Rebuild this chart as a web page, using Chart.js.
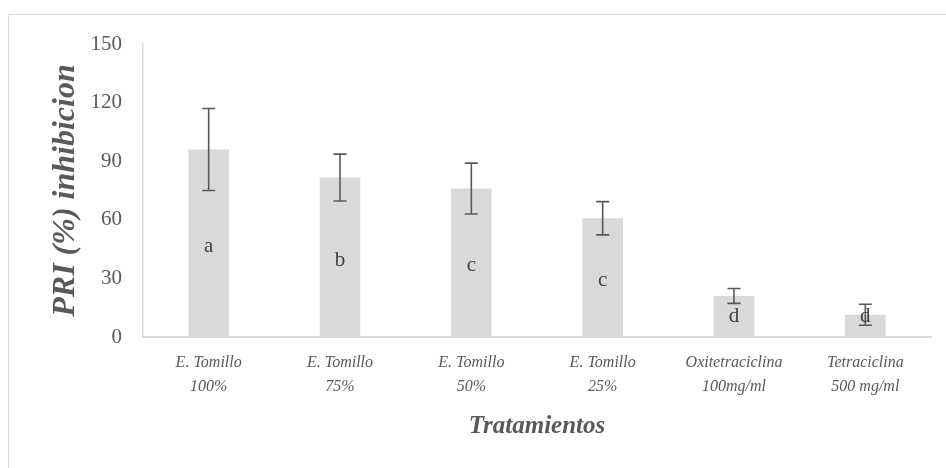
<!DOCTYPE html>
<html>
<head>
<meta charset="utf-8">
<script src="https://cdn.jsdelivr.net/npm/chart.js@4"></script>
<style>
  html, body { margin: 0; padding: 0; background: #ffffff; }
  #wrap { width: 946px; height: 468px; position: relative; }
</style>
</head>
<body>
<div id="wrap"><canvas id="chart" width="946" height="468"></canvas></div>
<script>
// Treatments and their inhibition values
const categories = [
  ['E. Tomillo', '100%'],
  ['E. Tomillo', '75%'],
  ['E. Tomillo', '50%'],
  ['E. Tomillo', '25%'],
  ['Oxitetraciclina', '100mg/ml'],
  ['Tetraciclina', '500 mg/ml']
];
const inhibition = [96, 81.6, 76, 60.8, 21, 11.4];
const errorSd = [21, 12, 13, 8.5, 3.8, 5.4];
const groupLetters = ['a', 'b', 'c', 'c', 'd', 'd'];
const yTicks = [0, 30, 60, 90, 120, 150];

const SERIF = '"Liberation Serif", "Times New Roman", serif';
const TEXT = '#595959';

// Error bars with caps, drawn on top of the bars
const errorBars = {
  id: 'errorBars',
  afterDatasetsDraw(chart) {
    const { ctx, scales: { x, y } } = chart;
    ctx.save();
    ctx.strokeStyle = '#595959';
    ctx.lineWidth = 1.6;
    inhibition.forEach((v, i) => {
      const cx = x.getPixelForValue(i);
      const top = y.getPixelForValue(v + errorSd[i]);
      const bot = y.getPixelForValue(v - errorSd[i]);
      ctx.beginPath();
      ctx.moveTo(cx, top); ctx.lineTo(cx, bot);
      ctx.moveTo(cx - 6.5, top); ctx.lineTo(cx + 6.5, top);
      ctx.moveTo(cx - 6.5, bot); ctx.lineTo(cx + 6.5, bot);
      ctx.stroke();
    });
    ctx.restore();
  }
};

// Significance letters inside each bar
const letterLabels = {
  id: 'letterLabels',
  afterDatasetsDraw(chart) {
    const { ctx, scales: { x, y } } = chart;
    ctx.save();
    ctx.fillStyle = '#404040';
    ctx.font = '21px ' + SERIF;
    ctx.textAlign = 'center';
    ctx.textBaseline = 'middle';
    inhibition.forEach((v, i) => {
      const cx = x.getPixelForValue(i);
      const cy = y.getPixelForValue(Math.max(v / 2, 12));
      ctx.fillText(groupLetters[i], cx, cy + 3);
    });
    ctx.restore();
  }
};

// Light frame along the top and left of the chart
const frame = {
  id: 'frame',
  beforeDraw(chart) {
    const { ctx } = chart;
    ctx.save();
    ctx.fillStyle = '#ffffff';
    ctx.fillRect(0, 0, chart.width, chart.height);
    ctx.strokeStyle = '#d9d9d9';
    ctx.lineWidth = 1;
    ctx.beginPath();
    ctx.moveTo(8.5, chart.height);
    ctx.lineTo(8.5, 14.5);
    ctx.lineTo(chart.width, 14.5);
    ctx.stroke();
    ctx.restore();
  }
};

new Chart(document.getElementById('chart'), {
  type: 'bar',
  data: {
    labels: categories,
    datasets: [{
      data: inhibition,
      backgroundColor: '#d9d9d9',
      borderWidth: 0,
      categoryPercentage: 1,
      barPercentage: 0.31
    }]
  },
  options: {
    responsive: false,
    animation: false,
    layout: { padding: { top: 44, right: 15, left: 0, bottom: 0 } },
    plugins: {
      legend: { display: false },
      tooltip: { enabled: false }
    },
    scales: {
      x: {
        grid: { display: false, drawTicks: false },
        border: { color: '#d9d9d9', width: 2 },
        ticks: {
          color: TEXT,
          font: { family: SERIF, size: 16, style: 'italic', lineHeight: 1.5 },
          padding: 14,
          maxRotation: 0,
          autoSkip: false
        },
        title: {
          display: true,
          text: 'Tratamientos',
          color: TEXT,
          font: { family: SERIF, size: 25, style: 'italic', weight: 'bold' },
          padding: { top: 8, bottom: 26 }
        },
        afterFit(scale) { scale.height = 131; }
      },
      y: {
        min: 0,
        max: 150,
        afterBuildTicks(scale) { scale.ticks = yTicks.map(v => ({ value: v })); },
        grid: { display: false, drawTicks: false },
        border: { color: '#d9d9d9', width: 1.5 },
        ticks: {
          color: TEXT,
          font: { family: SERIF, size: 21 },
          padding: 21
        },
        title: {
          display: true,
          text: 'PRI (%) inhibicion',
          color: TEXT,
          font: { family: SERIF, size: 32, style: 'italic', weight: 'bold' },
          padding: { top: 47, bottom: 0 }
        },
        afterFit(scale) { scale.width = 143; }
      }
    }
  },
  plugins: [frame, errorBars, letterLabels]
});
</script>
</body>
</html>
